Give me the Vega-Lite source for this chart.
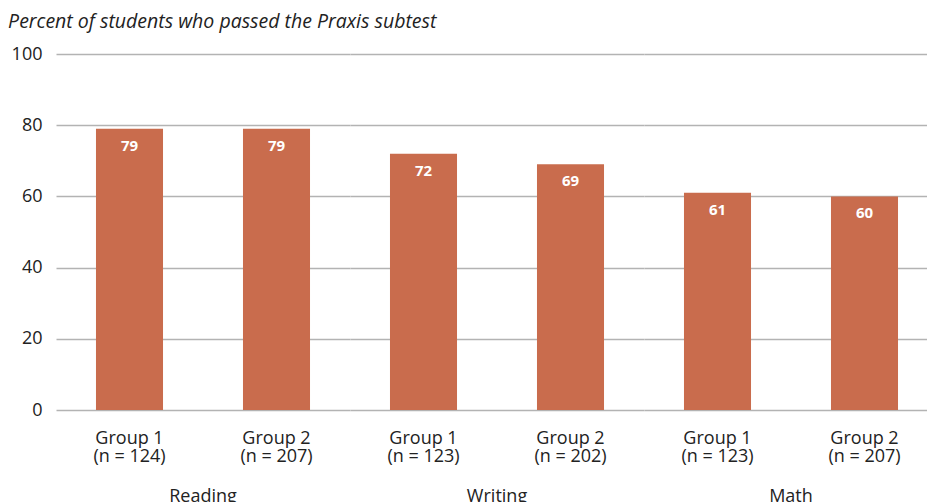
{
  "$schema": "https://vega.github.io/schema/vega-lite/v6.json",
  "padding": {"left": 8, "top": 11, "right": 0, "bottom": 0},
  "data": {"values": [
    {"subject": "Reading", "key": "Reading;Group 1;(n = 124)", "value": 79},
    {"subject": "Reading", "key": "Reading;Group 2;(n = 207)", "value": 79},
    {"subject": "Writing", "key": "Writing;Group 1;(n = 123)", "value": 72},
    {"subject": "Writing", "key": "Writing;Group 2;(n = 202)", "value": 69},
    {"subject": "Math", "key": "Math;Group 1;(n = 123)", "value": 61},
    {"subject": "Math", "key": "Math;Group 2;(n = 207)", "value": 60}
  ]},
  "title": {
    "text": "Percent of students who passed the Praxis subtest",
    "anchor": "start",
    "frame": "bounds",
    "font": "Open Sans",
    "fontSize": 19.5,
    "fontStyle": "italic",
    "fontWeight": "normal",
    "color": "#222222",
    "offset": 13,
    "dx": -3
  },
  "facet": {
    "column": {
      "field": "subject",
      "type": "nominal",
      "sort": ["Reading", "Writing", "Math"],
      "header": {
        "title": null,
        "labelOrient": "bottom",
        "labelFont": "Open Sans",
        "labelFontSize": 18,
        "labelColor": "#222222",
        "labelPadding": 23
      }
    }
  },
  "spacing": 0,
  "resolve": {"scale": {"x": "independent"}},
  "spec": {
    "width": 294,
    "height": 356,
    "encoding": {
      "x": {
        "field": "key",
        "type": "nominal",
        "sort": null,
        "scale": {"paddingInner": 0.544, "paddingOuter": 0.272},
        "axis": {
          "title": null,
          "labelAngle": 0,
          "ticks": false,
          "domain": false,
          "labelPadding": 19,
          "labelFont": "Open Sans",
          "labelFontSize": 18,
          "labelColor": "#222222",
          "labelLineHeight": 18,
          "labelExpr": "[split(datum.value, ';')[1], split(datum.value, ';')[2]]"
        }
      },
      "y": {
        "field": "value",
        "type": "quantitative",
        "scale": {"domain": [0, 100]},
        "axis": {
          "title": null,
          "values": [0, 20, 40, 60, 80, 100],
          "ticks": false,
          "domain": false,
          "labelPadding": 14,
          "labelFont": "Open Sans",
          "labelFontSize": 18,
          "labelColor": "#222222",
          "gridColor": "#b3b3b3",
          "gridWidth": 1.3
        }
      }
    },
    "layer": [
      {"mark": {"type": "bar", "color": "#c96c4d"}},
      {
        "mark": {"type": "text", "color": "white", "font": "Open Sans", "fontSize": 15, "fontWeight": "bold", "baseline": "middle", "dy": 17},
        "encoding": {"text": {"field": "value", "type": "quantitative"}}
      }
    ]
  },
  "config": {"view": {"stroke": null}}
}
